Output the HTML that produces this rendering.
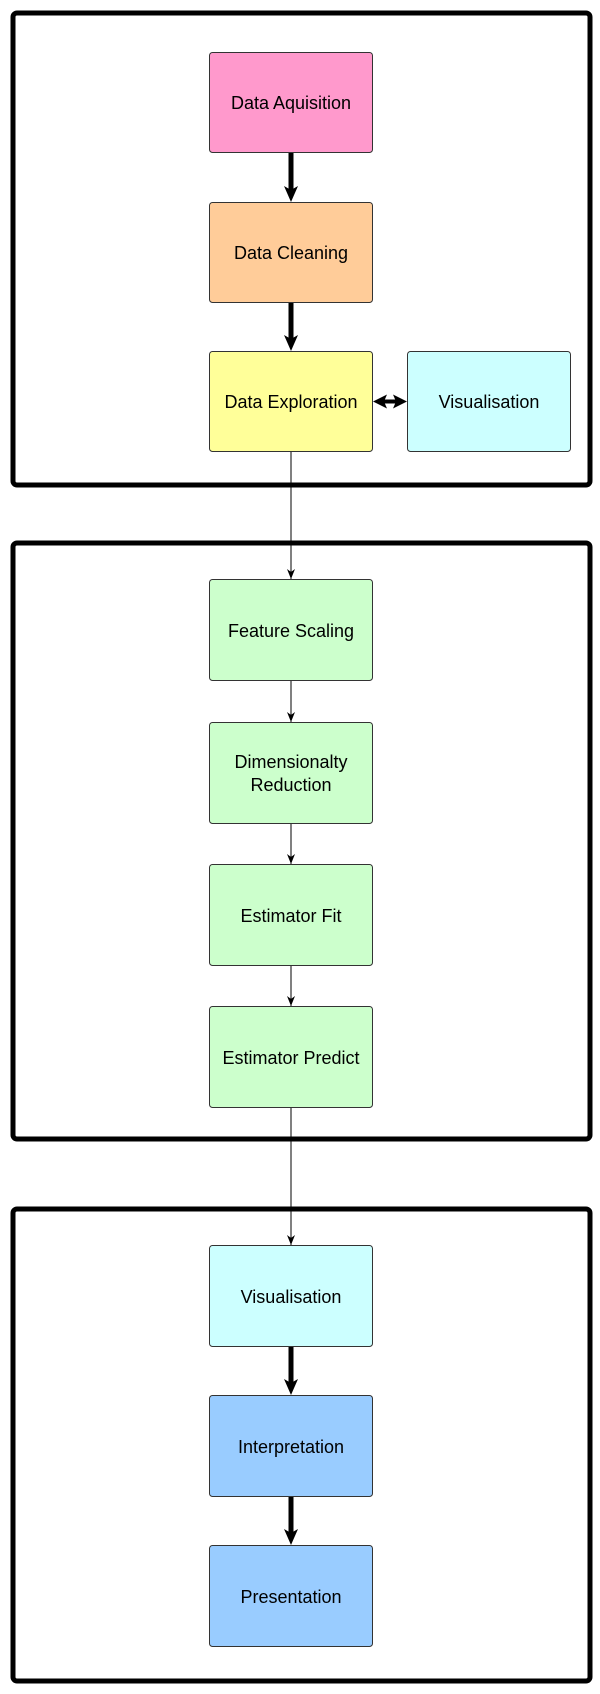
<!DOCTYPE html>
<html><head><meta charset="utf-8"><style>
html,body{margin:0;padding:0;background:#fff;}
svg{display:block;}
text{font-family:"Liberation Sans",Arial,sans-serif;font-size:18px;fill:#000;text-anchor:middle;}
</style></head><body>
<svg width="600" height="1694" viewBox="0 0 600 1694" xmlns="http://www.w3.org/2000/svg">
<defs>
<marker id="sm" markerWidth="8" markerHeight="10" refX="4" refY="10" markerUnits="userSpaceOnUse" viewBox="0 0 8 10">
<path d="M0,0 L4,3 L8,0 L4,10 Z" fill="#000"/></marker>
</defs>
<g fill="none" stroke="#000" stroke-width="5">
<rect x="13" y="13" width="577" height="472" rx="4"/>
<rect x="13" y="543" width="577" height="596" rx="4"/>
<rect x="13" y="1209" width="577" height="472" rx="4"/>
</g>
<g stroke="#333" stroke-width="1">
<rect x="209.5" y="52.5" width="163" height="100" rx="3" fill="#ff99cc"/>
<rect x="209.5" y="202.5" width="163" height="100" rx="3" fill="#ffcc99"/>
<rect x="209.5" y="351.5" width="163" height="100" rx="3" fill="#ffff99"/>
<rect x="407.5" y="351.5" width="163" height="100" rx="3" fill="#ccffff"/>
<rect x="209.5" y="579.5" width="163" height="101" rx="3" fill="#ccffcc"/>
<rect x="209.5" y="722.5" width="163" height="101" rx="3" fill="#ccffcc"/>
<rect x="209.5" y="864.5" width="163" height="101" rx="3" fill="#ccffcc"/>
<rect x="209.5" y="1006.5" width="163" height="101" rx="3" fill="#ccffcc"/>
<rect x="209.5" y="1245.5" width="163" height="101" rx="3" fill="#ccffff"/>
<rect x="209.5" y="1395.5" width="163" height="101" rx="3" fill="#99ccff"/>
<rect x="209.5" y="1545.5" width="163" height="101" rx="3" fill="#99ccff"/>
</g>
<g stroke="#000" stroke-width="5">
<line x1="291" y1="153" x2="291" y2="192"/>
<line x1="291" y1="303" x2="291" y2="341"/>
<line x1="291" y1="1347" x2="291" y2="1385"/>
<line x1="291" y1="1497" x2="291" y2="1535"/>
<line x1="383" y1="401.5" x2="397" y2="401.5" stroke-width="4"/>
</g>
<g fill="#000">
<polygon points="284,186 291,190 298,186 291,202"/>
<polygon points="284,335 291,339 298,335 291,351"/>
<polygon points="284,1379 291,1383 298,1379 291,1395"/>
<polygon points="284,1529 291,1533 298,1529 291,1545"/>
<polygon points="373,401.5 387,394.5 384,401.5 387,408.5"/>
<polygon points="407,401.5 393,394.5 396,401.5 393,408.5"/>
</g>
<g stroke="#000" stroke-width="1">
<line x1="291" y1="452" x2="291" y2="579" marker-end="url(#sm)"/>
<line x1="291" y1="681" x2="291" y2="722" marker-end="url(#sm)"/>
<line x1="291" y1="824" x2="291" y2="864" marker-end="url(#sm)"/>
<line x1="291" y1="966" x2="291" y2="1006" marker-end="url(#sm)"/>
<line x1="291" y1="1108" x2="291" y2="1245" marker-end="url(#sm)"/>
</g>
<text x="291" y="109">Data Aquisition</text>
<text x="291" y="259">Data Cleaning</text>
<text x="291" y="408">Data Exploration</text>
<text x="489" y="408">Visualisation</text>
<text x="291" y="637">Feature Scaling</text>
<text x="291" y="768">Dimensionalty</text>
<text x="291" y="791">Reduction</text>
<text x="291" y="922">Estimator Fit</text>
<text x="291" y="1064">Estimator Predict</text>
<text x="291" y="1303">Visualisation</text>
<text x="291" y="1453">Interpretation</text>
<text x="291" y="1603">Presentation</text>
</svg>
</body></html>
